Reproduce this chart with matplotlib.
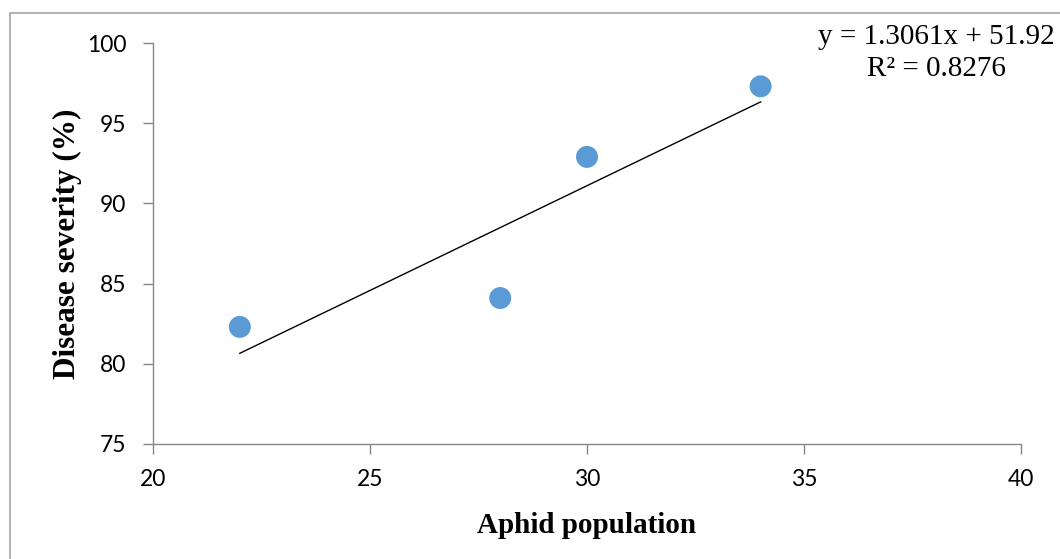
import numpy as np
import matplotlib.pyplot as plt
from matplotlib.patches import Rectangle

aphid = [22, 28, 30, 34]
severity = [82.3, 84.1, 92.9, 97.3]
slope = 1.3061
intercept = 51.92
r2 = 0.8276
xticks = [20, 25, 30, 35, 40]
yticks = [75, 80, 85, 90, 95, 100]

fig = plt.figure(figsize=(10.6, 5.59), dpi=100)
ax = fig.add_axes([153/1060, 1-444/559, (1021-153)/1060, (444-43)/559])

# outer chart-area frame
fig.patches.append(Rectangle((10/1060, -0.1), 1.2, 1-13/559+0.1, transform=fig.transFigure,
                             fill=False, edgecolor="#a6a6a6", linewidth=1.2))

x_line = np.array([min(aphid), max(aphid)])
ax.plot(x_line, slope*x_line+intercept, color="black", linewidth=1.0, zorder=2)
ax.scatter(aphid, severity, s=250, color="#5b9bd5", edgecolors="none", zorder=3)

ax.set_xlim(20, 40)
ax.set_ylim(75, 100)
ax.set_xticks(xticks)
ax.set_yticks(yticks)
for lab in ax.get_xticklabels() + ax.get_yticklabels():
	lab.set_fontfamily("Lato")
	lab.set_fontsize(16.5)
ax.tick_params(axis="both", direction="out", length=7, width=1, color="#868686")
ax.tick_params(axis="x", pad=11)
ax.tick_params(axis="y", pad=12)
for s in ["top", "right"]:
	ax.spines[s].set_visible(False)
for s in ["left", "bottom"]:
	ax.spines[s].set_color("#868686")
	ax.spines[s].set_linewidth(1)

ax.set_xlabel("Aphid population", fontfamily="Liberation Serif", fontweight="bold", fontsize=21, labelpad=16)
ax.set_ylabel("Disease severity (%)", fontfamily="Liberation Serif", fontweight="bold", fontsize=22.5, labelpad=4)

fig.text(936/1060, 1-24/559, "y = %.4fx + %.2f\nR² = %.4f" % (slope, intercept, r2),
		 fontfamily="Liberation Serif", fontsize=21, ha="center", va="top", linespacing=1.3,
		 transform=fig.transFigure)

fig.savefig("out.png", dpi=100)
